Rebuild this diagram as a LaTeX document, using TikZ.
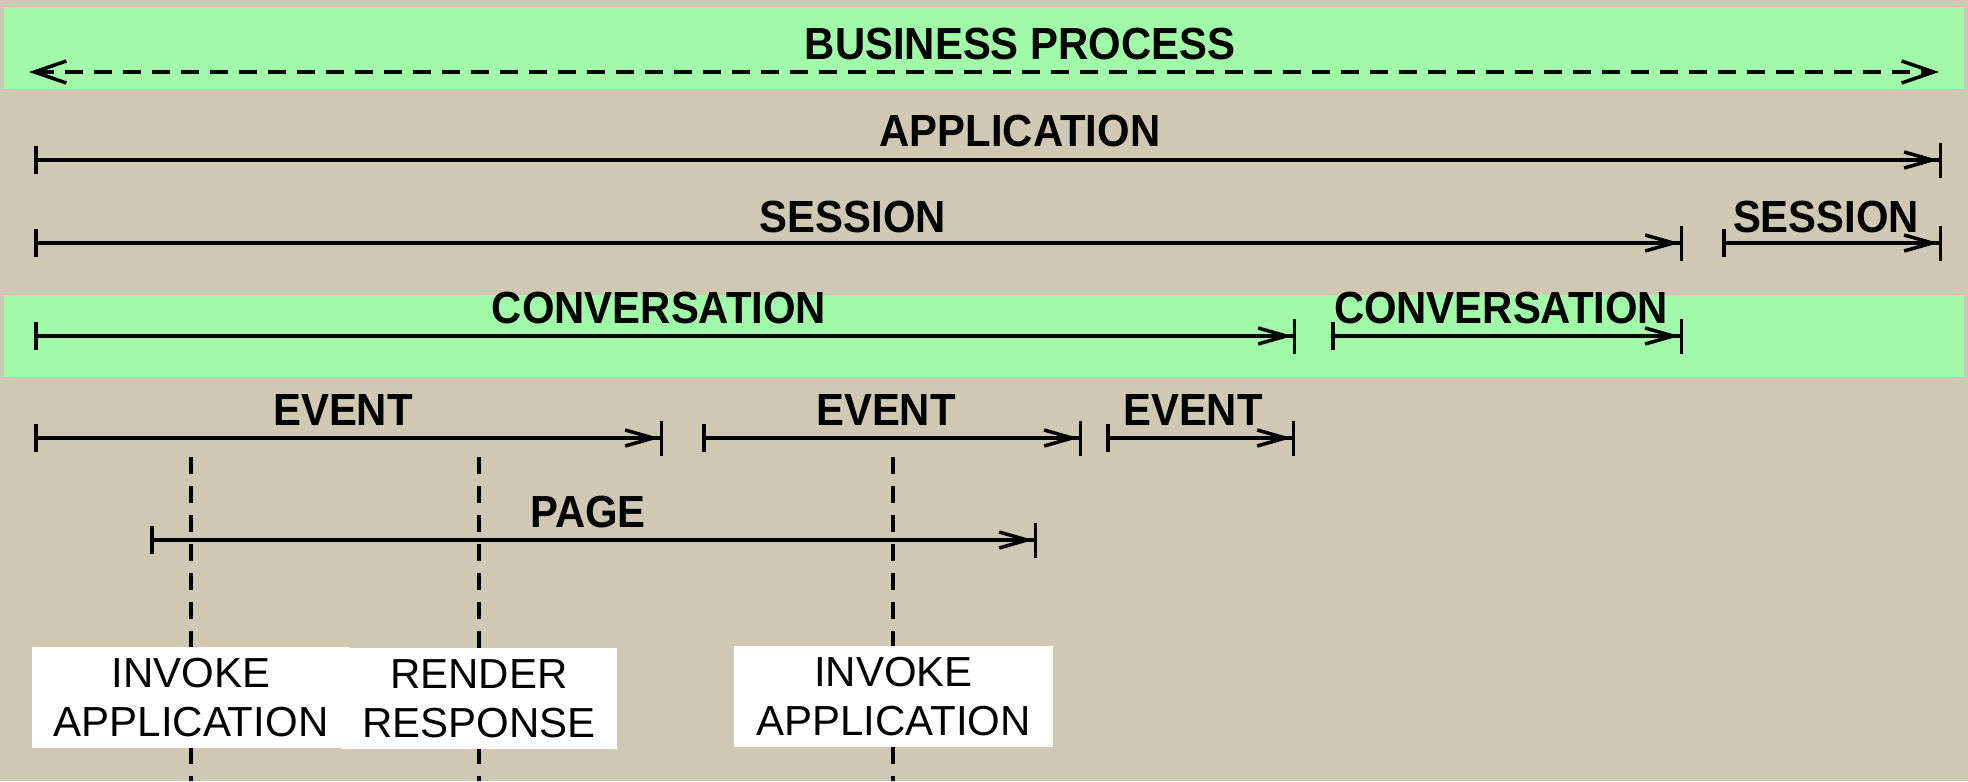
\documentclass[tikz,border=0pt]{standalone}
\usepackage{fontspec}
\setmainfont{Liberation Sans}
\newfontfamily\lblfont{Liberation Sans}[FakeStretch=0.93]
\usetikzlibrary{arrows.meta}
\definecolor{bg}{RGB}{208,200,179}
\definecolor{band}{RGB}{160,250,168}
\begin{document}
\begin{tikzpicture}[x=0.5pt,y=-0.5pt,
  lbl/.style={font=\lblfont\fontsize{22.5}{26}\selectfont\bfseries, inner sep=0pt, anchor=base},
  span/.style={line width=1.75pt, {Bar[width=14pt]}-{Straight Barb[length=14pt,width=8pt,sep=0pt]Bar[width=17.5pt]}},
  bparrow/.style={line width=1.75pt, dash pattern=on 9pt off 5.5pt, {Straight Barb[length=16pt,width=11pt]}-{Straight Barb[length=16pt,width=11pt]}},
  guide/.style={line width=1.65pt, dash pattern=on 8.5pt off 6pt},
  box/.style={fill=white, inner sep=0pt, align=center, font=\fontsize{21}{24.5}\selectfont, minimum height=50.5pt},
]
\fill[bg] (0,0) rectangle (1968,781);
\useasboundingbox (0,0) rectangle (1968,781);
\fill[band] (4,7) rectangle (1964,89);
\fill[band] (4,295) rectangle (1964,377);

% business process
\node[lbl] (bp) at (1020,60) {BUSINESS PROCESS};
\coordinate (bpL) at (29,72);
\coordinate (bpR) at (1939,72);
\draw[bparrow] (bpL) -- (bpR);

% application
\node[lbl] (app) at (1020,147) {APPLICATION};
\coordinate (appL) at (34,160);
\coordinate (appR) at (1942,160);
\draw[span] (appL) -- (appR);

% sessions
\node[lbl] (ses1) at (853,232) {SESSION};
\coordinate (ses1L) at (34,243);
\coordinate (ses1R) at (1683,243);
\draw[span] (ses1L) -- (ses1R);
\node[lbl] (ses2) at (1826,232) {SESSION};
\coordinate (ses2L) at (1722,243);
\coordinate (ses2R) at (1942,243);
\draw[span] (ses2L) -- (ses2R);

% conversations
\node[lbl] (con1) at (659,323) {CONVERSATION};
\coordinate (con1L) at (34,336);
\coordinate (con1R) at (1296,336);
\draw[span] (con1L) -- (con1R);
\node[lbl] (con2) at (1501,323) {CONVERSATION};
\coordinate (con2L) at (1331,336);
\coordinate (con2R) at (1683,336);
\draw[span] (con2L) -- (con2R);

% events
\node[lbl] (ev1) at (343,425) {EVENT};
\coordinate (ev1L) at (34,438);
\coordinate (ev1R) at (663,438);
\draw[span] (ev1L) -- (ev1R);
\node[lbl] (ev2) at (886,425) {EVENT};
\coordinate (ev2L) at (702,438);
\coordinate (ev2R) at (1082,438);
\draw[span] (ev2L) -- (ev2R);
\node[lbl] (ev3) at (1193,425) {EVENT};
\coordinate (ev3L) at (1106,438);
\coordinate (ev3R) at (1295,438);
\draw[span] (ev3L) -- (ev3R);

% page
\node[lbl] (pg) at (588,527) {PAGE};
\coordinate (pgL) at (150,540);
\coordinate (pgR) at (1037,540);
\draw[span] (pgL) -- (pgR);

% guides
\coordinate (g1t) at (191,457); \coordinate (g1b) at (191,781);
\coordinate (g2t) at (479,457); \coordinate (g2b) at (479,781);
\coordinate (g3t) at (893,457); \coordinate (g3b) at (893,781);
\draw[guide] (g1t) -- (g1b);
\draw[guide] (g2t) -- (g2b);
\draw[guide] (g3t) -- (g3b);

% phase boxes
\node[box, minimum width=159pt] (inv1) at (191,697.5) {INVOKE\\APPLICATION};
\node[box, minimum width=138pt] (ren) at (479,698.5) {RENDER\\RESPONSE};
\node[box, minimum width=159.5pt] (inv2) at (893.5,696.5) {INVOKE\\APPLICATION};
\end{tikzpicture}
\end{document}
